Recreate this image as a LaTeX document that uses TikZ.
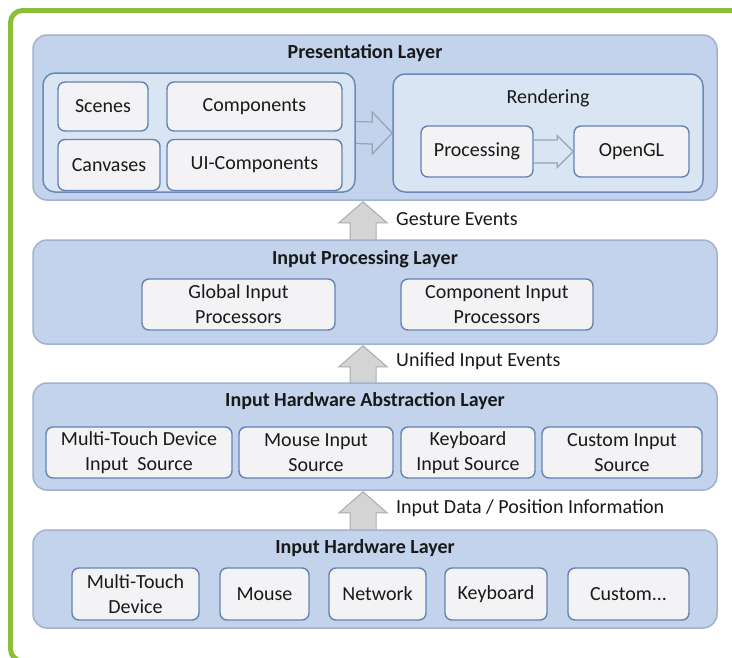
\documentclass[tikz,border=0pt]{standalone}
\usepackage{fontspec}
\setmainfont{Carlito}
\usetikzlibrary{calc,backgrounds}
\definecolor{frameg}{RGB}{141,190,58}
\definecolor{layerfill}{RGB}{194,211,235}
\definecolor{layerdraw}{RGB}{160,178,205}
\definecolor{groupfill}{RGB}{218,229,243}
\definecolor{groupdraw}{RGB}{105,137,185}
\definecolor{leaffill}{RGB}{243,243,246}
\definecolor{leafdraw}{RGB}{100,130,178}
\definecolor{arrfill}{RGB}{212,212,212}
\definecolor{arrdraw}{RGB}{172,172,172}
\definecolor{hollowdraw}{RGB}{150,162,182}
\definecolor{txt}{RGB}{25,25,25}
\begin{document}
\begin{tikzpicture}[x=1pt,y=-1pt,
 layer/.style={draw=layerdraw, line width=1.5pt, fill=layerfill, rounded corners=14pt, inner sep=0pt},
 group/.style={draw=groupdraw, line width=1.5pt, fill=groupfill, rounded corners=12pt, inner sep=0pt},
 leaf/.style={draw=leafdraw, line width=1.4pt, fill=leaffill, rounded corners=7pt, inner sep=0pt, align=center, font=\fontsize{20}{25}\selectfont, text=txt},
 title/.style={font=\fontsize{20}{24}\selectfont\bfseries, text=txt, inner sep=0pt},
 plain/.style={font=\fontsize{20}{24}\selectfont, text=txt, inner sep=0pt},
 lbl/.style={font=\fontsize{20}{24}\selectfont, text=txt, inner sep=0pt, anchor=west},
 uparrow/.style={draw=arrdraw, fill=arrfill, line width=1pt, line join=miter},
 hollow/.style={draw=hollowdraw, line width=1.2pt, line join=miter}]
\useasboundingbox (0,0) rectangle (732,657);
\draw[frameg, line width=5pt, rounded corners=12pt] (10.5,10.5) rectangle (760,661);

% layers
\node[layer, minimum width=684pt, minimum height=165pt] (pres) at (375,117.5) {};
\node[layer, minimum width=684pt, minimum height=104pt] (ipl) at (375,292) {};
\node[layer, minimum width=684pt, minimum height=107pt] (ihal) at (375,436.5) {};
\node[layer, minimum width=684pt, minimum height=98pt] (ihl) at (375,579) {};

\node[title] (t1) at (365,53) {Presentation Layer};
\node[title] (t2) at (365,259) {Input Processing Layer};
\node[title] (t3) at (365,401) {Input Hardware Abstraction Layer};
\node[title] (t4) at (365,548) {Input Hardware Layer};

% presentation layer content
\node[group, minimum width=312pt, minimum height=119pt] (lg) at (199,132.5) {};
\node[group, minimum width=310pt, minimum height=118pt] (rend) at (548,133) {};
\node[plain] (rt) at (548,98) {Rendering};
\node[leaf, minimum width=90pt, minimum height=49pt] (scenes) at (103,106.5) {Scenes};
\node[leaf, minimum width=175pt, minimum height=49pt] (comp) at (254.5,106.5) {Components};
\node[leaf, minimum width=102pt, minimum height=51pt] (canv) at (109,165) {Canvases};
\node[leaf, minimum width=175pt, minimum height=51pt] (uic) at (254.5,165) {UI-Components};
\node[leaf, minimum width=112pt, minimum height=51pt] (proc) at (477,151.5) {Processing};
\node[leaf, minimum width=115pt, minimum height=51pt] (ogl) at (631.5,151.5) {OpenGL};

\draw[hollow] ($(lg.east)+(0,-11)$) -- ($(rend.west)+(-20,-11)$) -- ($(rend.west)+(-20,-21)$) -- (rend.west)
  -- ($(rend.west)+(-20,21)$) -- ($(rend.west)+(-20,11)$) -- ($(lg.east)+(0,11)$);
\draw[hollow] ($(proc.east)+(0,-11.5)$) -- ($(ogl.west)+(-16,-11.5)$) -- ($(ogl.west)+(-16,-16)$) -- (ogl.west)
  -- ($(ogl.west)+(-16,16)$) -- ($(ogl.west)+(-16,11.5)$) -- ($(proc.east)+(0,11.5)$);

% input processing layer
\node[leaf, minimum width=193pt, minimum height=51pt] (gip) at (238.5,304.5) {Global Input\\Processors};
\node[leaf, minimum width=192pt, minimum height=51pt] (cip) at (497,304.5) {Component Input\\Processors};

% abstraction layer
\node[leaf, minimum width=186pt, minimum height=51pt] (mts) at (139,452.5) {Multi-Touch Device\\Input\ \ Source};
\node[leaf, minimum width=154pt, minimum height=51pt] (mis) at (316,452.5) {Mouse Input\\Source};
\node[leaf, minimum width=134pt, minimum height=51pt] (kis) at (468,452.5) {Keyboard\\Input Source};
\node[leaf, minimum width=160pt, minimum height=51pt] (cis) at (622,452.5) {Custom Input\\Source};

% hardware layer
\node[leaf, minimum width=127pt, minimum height=52pt] (mtd) at (135.5,594) {Multi-Touch\\Device};
\node[leaf, minimum width=89pt, minimum height=52pt] (mouse) at (264.5,594) {Mouse};
\node[leaf, minimum width=97pt, minimum height=52pt] (net) at (377.5,594) {Network};
\node[leaf, minimum width=102pt, minimum height=52pt] (kbd) at (496,594) {Keyboard};
\node[leaf, minimum width=121pt, minimum height=52pt] (cust) at (628.5,594) {Custom...};

% up arrows
\coordinate (ax) at (363,0);
\begin{scope}[on background layer]
\fill[white] (0,0) rectangle (732,657);
\foreach \lo/\hi in {ipl/pres, ihal/ipl, ihl/ihal}{
  \draw[uparrow] ($(\lo.north -| ax)+(-13,2)$) -- ($(\hi.south -| ax)+(-13,22)$) -- ($(\hi.south -| ax)+(-24,22)$)
    -- ($(\hi.south -| ax)+(0,1)$) -- ($(\hi.south -| ax)+(24,22)$) -- ($(\hi.south -| ax)+(13,22)$)
    -- ($(\lo.north -| ax)+(13,2)$) -- cycle;
}
\end{scope}
\node[lbl] (l1) at (396,219) {Gesture Events};
\node[lbl] (l2) at (396,361) {Unified Input Events};
\node[lbl] (l3) at (396,508) {Input Data / Position Information};
\end{tikzpicture}
\end{document}
